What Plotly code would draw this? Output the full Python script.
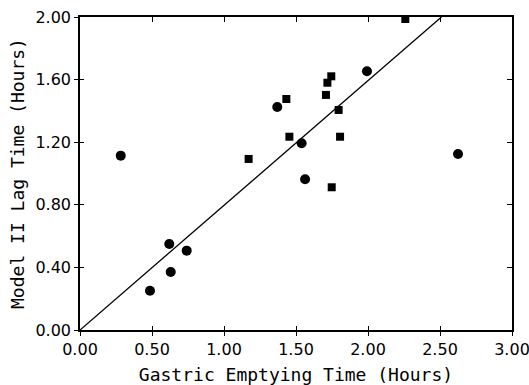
import plotly.graph_objects as go

# Data
circle_x = [0.283, 0.486, 0.620, 0.630, 0.741, 1.370, 1.539, 1.563, 1.993, 2.625]
circle_y = [1.114, 0.251, 0.550, 0.371, 0.507, 1.425, 1.193, 0.963, 1.653, 1.125]
square_x = [1.171, 1.433, 1.454, 1.708, 1.718, 1.745, 1.796, 1.806, 1.748, 2.259]
square_y = [1.093, 1.476, 1.235, 1.502, 1.580, 1.621, 1.406, 1.235, 0.912, 1.987]
line_x = [0.0, 2.51]
line_y = [0.0, 2.0]
x_ticks = [0.0, 0.5, 1.0, 1.5, 2.0, 2.5, 3.0]
y_ticks = [0.0, 0.4, 0.8, 1.2, 1.6, 2.0]

fig = go.Figure()
fig.add_trace(go.Scatter(x=circle_x, y=circle_y, mode="markers",
                         marker=dict(symbol="circle", size=10, color="black"),
                         showlegend=False))
fig.add_trace(go.Scatter(x=square_x, y=square_y, mode="markers",
                         marker=dict(symbol="square", size=8, color="black"),
                         showlegend=False))
fig.add_trace(go.Scatter(x=line_x, y=line_y, mode="lines", xaxis="x2", yaxis="y2",
                         line=dict(color="black", width=1.3), showlegend=False))
fig.add_trace(go.Scatter(x=line_x, y=line_y, mode="lines", xaxis="x3", yaxis="y3",
                         line=dict(color="rgba(0,0,0,0)", width=0), showlegend=False,
                         hoverinfo="skip"))

tick_font = dict(family="DejaVu Sans", size=16, color="black")
title_font = dict(family="DejaVu Sans Mono", size=18, color="black")

common_x = dict(range=[0, 3], tickvals=x_ticks, showgrid=False, zeroline=False,
                automargin=False)
common_y = dict(range=[0, 2], tickvals=y_ticks, showgrid=False, zeroline=False,
                automargin=False)

fig.update_layout(
    width=529, height=385,
    margin=dict(l=80, r=17, t=17, b=55),
    paper_bgcolor="white", plot_bgcolor="white",
    xaxis=dict(**common_x, ticks="outside", ticklen=4, tickwidth=1.3, tickcolor="black",
               showline=True, linewidth=1.5, linecolor="black",
               tickformat=".2f", tickfont=tick_font, ticklabeloverflow="allow",
               title=dict(text="Gastric Emptying Time (Hours)", font=title_font, standoff=14)),
    yaxis=dict(**common_y, ticks="outside", ticklen=4, tickwidth=1.3, tickcolor="black",
               showline=True, linewidth=1.5, linecolor="black",
               tickformat=".2f", tickfont=tick_font, ticklabeloverflow="allow",
               title=dict(text="Model II Lag Time (Hours)", font=title_font, standoff=6)),
    xaxis2=dict(**common_x, overlaying="x", side="top", ticks="inside", ticklen=5,
                tickwidth=1.3, tickcolor="black", showticklabels=False,
                showline=True, linewidth=1.5, linecolor="black"),
    yaxis2=dict(**common_y, overlaying="y", side="right", ticks="inside", ticklen=5,
                tickwidth=1.3, tickcolor="black", showticklabels=False,
                showline=True, linewidth=1.5, linecolor="black"),
    xaxis3=dict(**common_x, overlaying="x", side="bottom", ticks="inside", ticklen=4,
                tickwidth=1.3, tickcolor="black", showticklabels=False, showline=False),
    yaxis3=dict(**common_y, overlaying="y", side="left", ticks="inside", ticklen=4,
                tickwidth=1.3, tickcolor="black", showticklabels=False, showline=False),
)

fig.write_html("out.html")
